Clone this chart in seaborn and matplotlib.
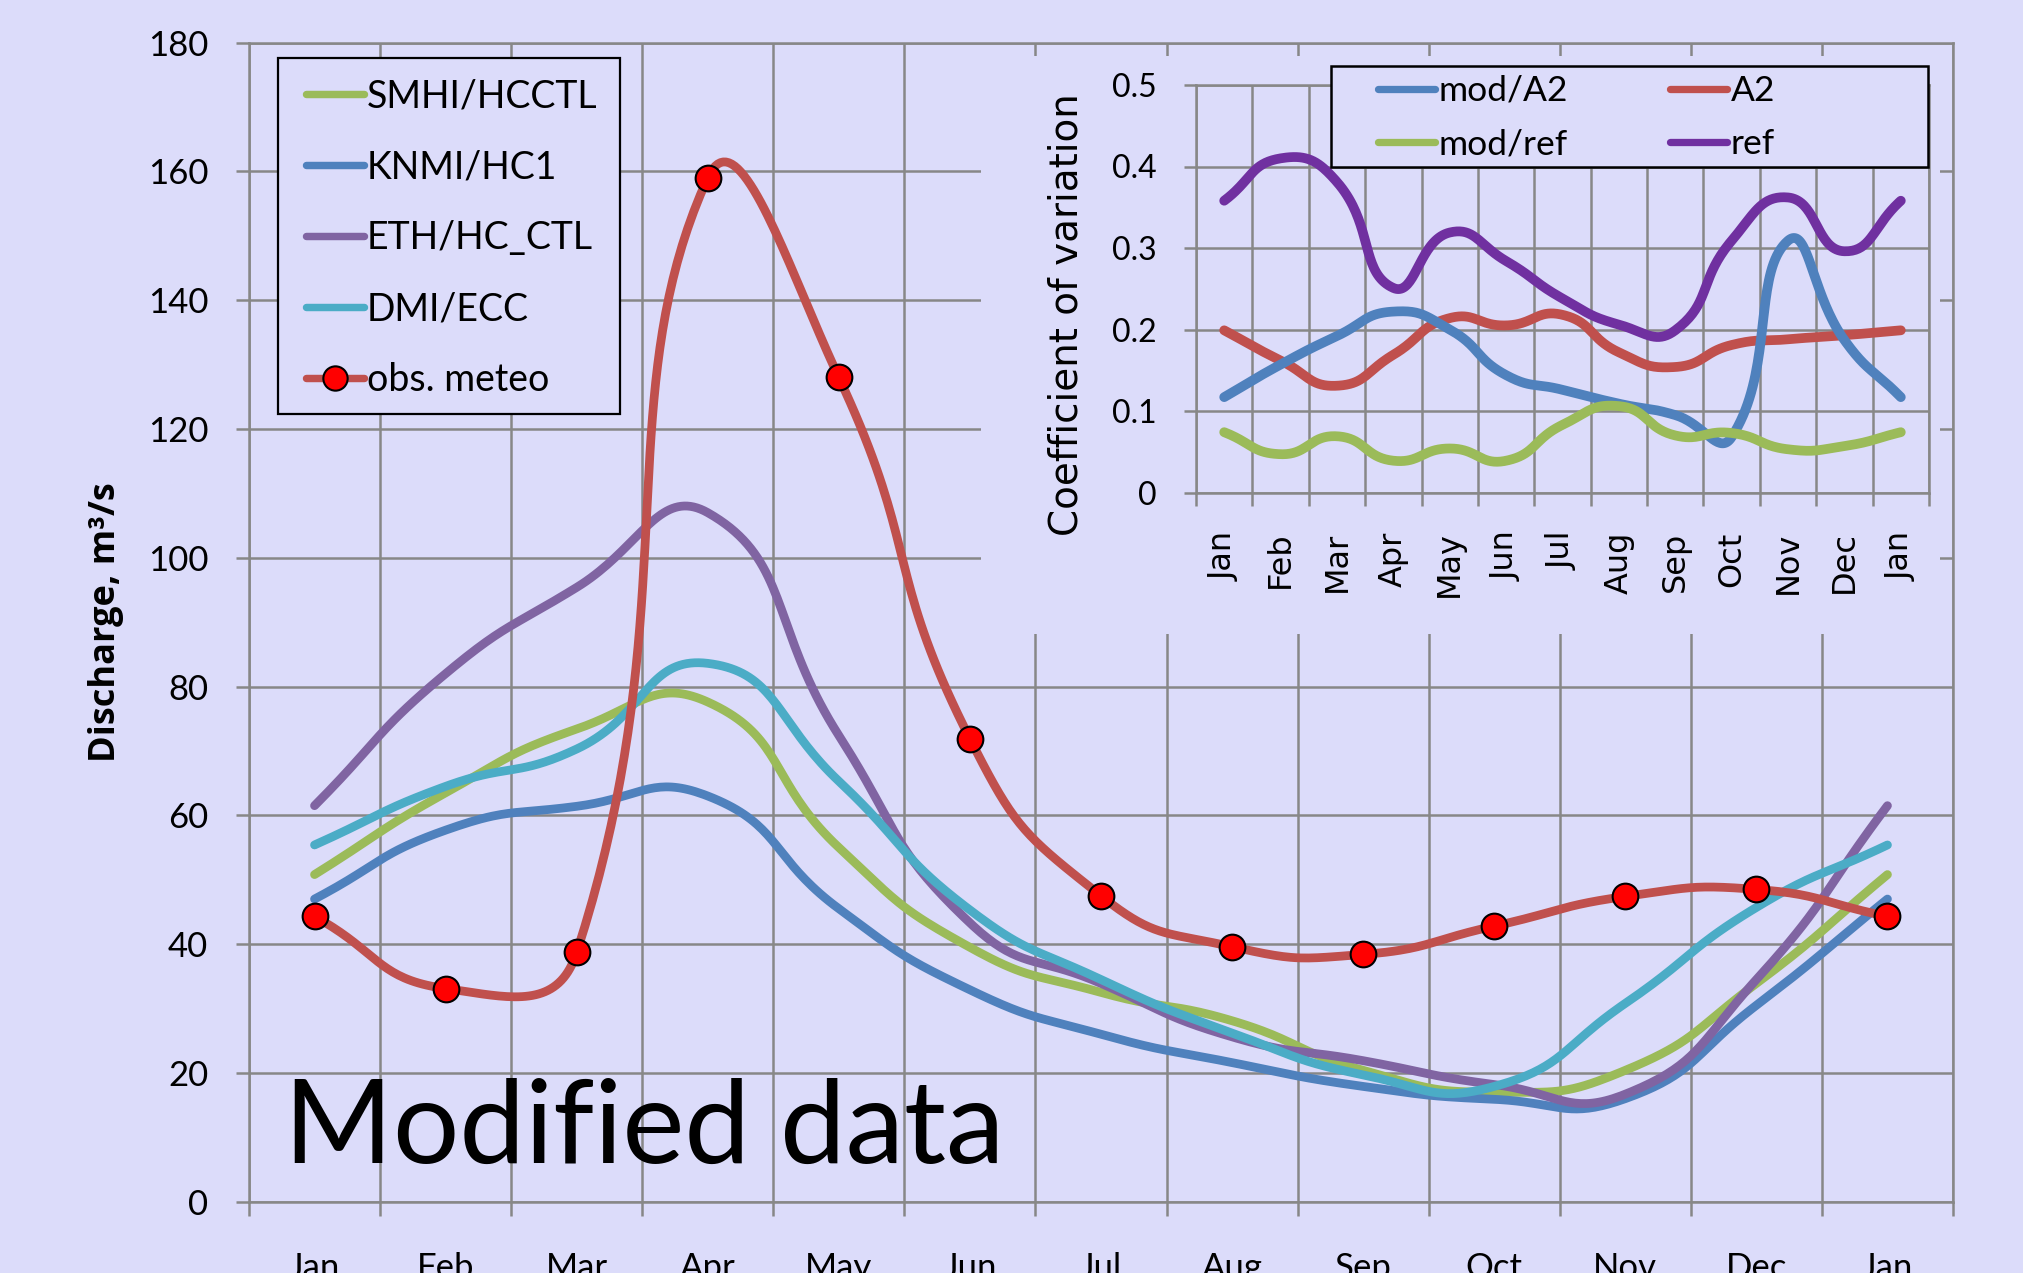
import numpy as np
import matplotlib
matplotlib.use("Agg")
import matplotlib.pyplot as plt
import seaborn as sns
from matplotlib.lines import Line2D
from matplotlib.patches import Rectangle
from matplotlib.ticker import FixedLocator, NullFormatter, FixedFormatter

# ---------------- data ----------------
months = ["Jan", "Feb", "Mar", "Apr", "May", "Jun", "Jul",
          "Aug", "Sep", "Oct", "Nov", "Dec", "Jan"]

smhi_hcctl = [50.8, 63.5, 73.4, 77.6, 55.0, 39.5, 32.5, 28.1, 20.4, 17.0, 20.4, 33.9, 50.8]
knmi_hc1 = [47.0, 57.7, 61.4, 63.0, 45.5, 32.9, 26.0, 21.6, 17.9, 15.9, 16.0, 30.5, 47.0]
eth_hc_ctl = [61.5, 82.0, 95.4, 107.0, 72.4, 43.3, 33.9, 25.6, 21.9, 18.2, 16.7, 34.5, 61.5]
dmi_ecc = [55.4, 64.5, 70.3, 83.6, 65.3, 45.3, 34.5, 26.2, 19.7, 17.9, 30.8, 45.7, 55.4]
obs_meteo = [44.3, 33.1, 38.7, 159.0, 128.0, 71.9, 47.5, 39.6, 38.4, 42.8, 47.4, 48.5, 44.3]

main_yticks = [0, 20, 40, 60, 80, 100, 120, 140, 160, 180]

cv_mod_a2 = [0.117, 0.157, 0.192, 0.222, 0.200, 0.144, 0.126, 0.109, 0.095, 0.068, 0.309, 0.187, 0.117]
cv_a2 = [0.199, 0.162, 0.131, 0.169, 0.214, 0.205, 0.218, 0.172, 0.154, 0.181, 0.188, 0.193, 0.199]
cv_mod_ref = [0.074, 0.047, 0.069, 0.039, 0.054, 0.039, 0.083, 0.106, 0.070, 0.073, 0.053, 0.057, 0.074]
cv_ref = [0.358, 0.410, 0.381, 0.251, 0.319, 0.284, 0.238, 0.206, 0.199, 0.309, 0.362, 0.296, 0.358]

inset_yticks = [0, 0.1, 0.2, 0.3, 0.4, 0.5]
inset_yticklabels = ["0", "0.1", "0.2", "0.3", "0.4", "0.5"]

# ---------------- style ----------------
BG = "#DCDCFA"
GRID = "#878787"
C_GREEN = "#9BBB59"
C_BLUE = "#4F81BD"
C_PURPLE = "#8064A2"
C_CYAN = "#4BACC6"
C_RED = "#C0504D"
C_DPURPLE = "#7030A0"
GLW = 1.8

sns.set_theme(style="white", rc={
    "axes.facecolor": BG, "figure.facecolor": BG,
    "text.color": "black", "axes.labelcolor": "black",
    "xtick.color": "black", "ytick.color": "black",
    "axes.axisbelow": True,
})
plt.rcParams["font.family"] = ["Lato", "DejaVu Sans"]

W, H = 2024, 1273
fig = plt.figure(figsize=(W / 100, H / 100), dpi=100, facecolor=BG)


def fx(px):
    return px / W


def fy(py):
    return 1 - py / H


def smooth_xy(ax, xs, ys, n=40):
    """Excel-like smoothed line: cubic Bezier segments computed in screen space."""
    P = ax.transData.transform(np.column_stack([xs, ys]).astype(float))
    m = len(P)
    out = []
    t = np.linspace(0, 1, n)[:, None]
    for i in range(m - 1):
        p0 = P[max(i - 1, 0)]
        p1 = P[i]
        p2 = P[i + 1]
        p3 = P[min(i + 2, m - 1)]
        d01 = np.hypot(*(p1 - p0))
        d12 = np.hypot(*(p2 - p1))
        d23 = np.hypot(*(p3 - p2))
        f1 = 0.5 * d12 / (d01 + d12) if d01 + d12 > 0 else 0
        f2 = 0.5 * d12 / (d12 + d23) if d12 + d23 > 0 else 0
        c1 = p1 + (p2 - p0) * f1
        c2 = p2 - (p3 - p1) * f2
        seg = ((1 - t) ** 3) * p1 + 3 * ((1 - t) ** 2) * t * c1 + 3 * (1 - t) * t ** 2 * c2 + t ** 3 * p2
        out.append(seg if i == m - 2 else seg[:-1])
    out = np.vstack(out)
    d = ax.transData.inverted().transform(out)
    return d[:, 0], d[:, 1]


# ---------------- main axes ----------------
ax_l, ax_r, ax_t, ax_b = 249, 1953, 42.6, 1201.7
ax = fig.add_axes([fx(ax_l), fy(ax_b), (ax_r - ax_l) / W, (ax_b - ax_t) / H])
ax.set_facecolor(BG)
ax.set_xlim(-0.5, 12.5)
ax.set_ylim(0, 180)

x = np.arange(len(months))
main_series = [
    ("SMHI/HCCTL", smhi_hcctl, C_GREEN),
    ("KNMI/HC1", knmi_hc1, C_BLUE),
    ("ETH/HC_CTL", eth_hc_ctl, C_PURPLE),
    ("DMI/ECC", dmi_ecc, C_CYAN),
    ("obs. meteo", obs_meteo, C_RED),
]
LW = 6.3
for i, (name, vals, col) in enumerate(main_series):
    sx, sy = smooth_xy(ax, x, vals)
    sns.lineplot(x=sx, y=sy, sort=False, estimator=None, color=col, linewidth=LW,
                 solid_capstyle="round", ax=ax, legend=False, zorder=2 + i * 0.1)
sns.scatterplot(x=x, y=obs_meteo, s=18.5 ** 2, color="#FF0000", edgecolor="black",
                linewidth=1.5, zorder=4, ax=ax, legend=False)

ax.xaxis.set_major_locator(FixedLocator(np.arange(-0.5, 13, 1)))
ax.xaxis.set_major_formatter(NullFormatter())
ax.xaxis.set_minor_locator(FixedLocator(x))
ax.xaxis.set_minor_formatter(FixedFormatter(months))
ax.tick_params(axis="x", which="major", length=10, width=GLW, color=GRID, direction="out", bottom=True)
ax.tick_params(axis="x", which="minor", length=0, pad=36, labelsize=25, bottom=True)
ax.set_yticks(main_yticks)
ax.tick_params(axis="y", length=9.4, width=GLW, color=GRID, pad=20, labelsize=25, left=True, direction="out")
ax.grid(True, which="major", color=GRID, linewidth=GLW)
for s in ax.spines.values():
    s.set_color(GRID)
    s.set_linewidth(GLW)

ax.set_xlabel("")
ax.set_ylabel("Discharge, m³/s", fontsize=26, fontweight="bold",
              family=["Open Sans", "DejaVu Sans"])
ax.yaxis.set_label_coords(-0.0734, 0.5)


def tf_x(px):
    return (px - ax_l) / (ax_r - ax_l)


def tf_y(py):
    return 1 - (py - ax_t) / (ax_b - ax_t)


# main legend
ax.add_patch(Rectangle((tf_x(278), tf_y(414)), tf_x(620) - tf_x(278), tf_y(58) - tf_y(414),
                       transform=ax.transAxes, facecolor=BG, edgecolor="black",
                       linewidth=1.6, zorder=4.8, clip_on=False))
handles = []
for name, vals, col in main_series:
    if name == "obs. meteo":
        handles.append(Line2D([], [], color=col, linewidth=LW * 0.85, marker="o", markersize=17.5,
                              markerfacecolor="#FF0000", markeredgecolor="black", markeredgewidth=1.5))
    else:
        handles.append(Line2D([], [], color=col, linewidth=LW * 0.85, solid_capstyle="round"))
leg = ax.legend(handles, [s[0] for s in main_series], loc="upper left",
                bbox_to_anchor=(tf_x(306), tf_y(78.5)), bbox_transform=ax.transAxes,
                frameon=False, borderpad=0, borderaxespad=0, handlelength=1.55,
                handletextpad=0.08, labelspacing=0.93, fontsize=27)
leg.set_zorder(5)

ax.text(tf_x(284), tf_y(1162.5), "Modified data", transform=ax.transAxes,
        fontsize=84.5, ha="left", va="baseline", color="black", zorder=6)

# ---------------- inset ----------------
fig.add_artist(Rectangle((fx(981), fy(634)), (1940 - 981) / W, (634 - 56) / H,
                         transform=fig.transFigure, facecolor=BG, edgecolor="none", zorder=1))

i_l, i_r, i_t, i_b = 1196, 1929, 85, 492.5
iax = fig.add_axes([fx(i_l), fy(i_b), (i_r - i_l) / W, (i_b - i_t) / H], zorder=3)
iax.set_facecolor(BG)
iax.set_xlim(-0.5, 12.5)
iax.set_ylim(0, 0.5)

inset_series = [
    ("A2", cv_a2, C_RED),
    ("mod/A2", cv_mod_a2, C_BLUE),
    ("mod/ref", cv_mod_ref, C_GREEN),
    ("ref", cv_ref, C_DPURPLE),
]
ILW = 7.0
for i, (name, vals, col) in enumerate(inset_series):
    sx, sy = smooth_xy(iax, x, vals)
    sns.lineplot(x=sx, y=sy, sort=False, estimator=None, color=col, linewidth=ILW,
                 solid_capstyle="round", ax=iax, legend=False, zorder=2 + i * 0.1)

iax.xaxis.set_major_locator(FixedLocator(np.arange(-0.5, 13, 1)))
iax.xaxis.set_major_formatter(NullFormatter())
iax.xaxis.set_minor_locator(FixedLocator(x))
iax.xaxis.set_minor_formatter(FixedFormatter(months))
iax.tick_params(axis="x", which="major", length=9.4, width=GLW, color=GRID, direction="out", bottom=True)
iax.tick_params(axis="x", which="minor", length=0, pad=28, labelsize=23, labelrotation=90, bottom=True)
for lab in iax.xaxis.get_minorticklabels():
    lab.set_family(["DejaVu Sans"])
iax.yaxis.set_major_locator(FixedLocator(inset_yticks))
iax.yaxis.set_major_formatter(FixedFormatter(inset_yticklabels))
iax.tick_params(axis="y", length=8.6, width=GLW, color=GRID, pad=19.5, labelsize=23, left=True, direction="out")
iax.grid(True, which="major", color=GRID, linewidth=GLW)
for s in iax.spines.values():
    s.set_color(GRID)
    s.set_linewidth(GLW)
iax.set_xlabel("")
iax.set_ylabel("Coefficient of variation", fontsize=28, family=["DejaVu Sans"])
iax.yaxis.set_label_coords(-0.151, 0.4356)


def itf_x(px):
    return (px - i_l) / (i_r - i_l)


def itf_y(py):
    return 1 - (py - i_t) / (i_b - i_t)


iax.add_patch(Rectangle((itf_x(1331), itf_y(167)), itf_x(1928) - itf_x(1331), itf_y(66) - itf_y(167),
                        transform=iax.transAxes, facecolor=BG, edgecolor="black",
                        linewidth=1.8, zorder=4.8, clip_on=False))
lookup = {n: c for n, v, c in inset_series}
order = ["mod/A2", "mod/ref", "A2", "ref"]
ihandles = [Line2D([], [], color=lookup[n], linewidth=ILW * 0.75, solid_capstyle="round") for n in order]
ileg = iax.legend(ihandles, order, ncol=2, loc="upper left",
                  bbox_to_anchor=(itf_x(1378), itf_y(75)), bbox_transform=iax.transAxes,
                  frameon=False, borderpad=0, borderaxespad=0, handlelength=1.6,
                  handletextpad=0.1, labelspacing=0.6, columnspacing=2.9, fontsize=25.5)
ileg.set_zorder(5)

fig.savefig("out.png", dpi=100, facecolor=BG)
